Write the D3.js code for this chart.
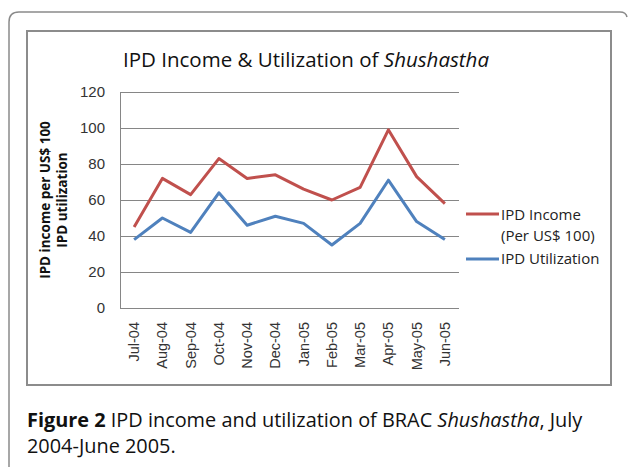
<!DOCTYPE html>
<html>
<head>
<meta charset="utf-8">
<script src="https://cdn.jsdelivr.net/npm/d3@7"></script>
<style>
  body { margin: 0; background: #fff; }
  svg { display: block; font-family: "Open Sans", sans-serif; }
  .tick text { fill: #333; }
</style>
</head>
<body>
<svg width="628" height="467"></svg>
<script>
// months on the x axis
var months = ['Jul-04', 'Aug-04', 'Sep-04', 'Oct-04', 'Nov-04', 'Dec-04',
  'Jan-05', 'Feb-05', 'Mar-05', 'Apr-05', 'May-05', 'Jun-05'];
// IPD income per US$ 100
var income = [45, 72, 63, 83, 72, 74, 66, 60, 67, 99, 73, 58];
// IPD utilization
var utilization = [38, 50, 42, 64, 46, 51, 47, 35, 47, 71, 48, 38];
var yTicks = [0, 20, 40, 60, 80, 100, 120];

var svg = d3.select('svg');

// journal figure frame (open at the bottom)
svg.append('path')
  .attr('d', 'M9,467 V22 Q9,12 19,12 H620 Q626,12 627,17')
  .attr('fill', 'none')
  .attr('stroke', '#8a8a8a')
  .attr('stroke-width', 1.5);

// chart box
svg.append('rect')
  .attr('x', 27)
  .attr('y', 31)
  .attr('width', 584)
  .attr('height', 354)
  .attr('fill', 'white')
  .attr('stroke', '#8c8c8c')
  .attr('stroke-width', 2);

var plot = { left: 120, right: 459, top: 92, bottom: 308 };

var x = d3.scaleBand()
  .domain(months)
  .range([plot.left, plot.right]);

var y = d3.scaleLinear()
  .domain([0, 120])
  .range([plot.bottom, plot.top]);

// y axis + gridlines
var yAxis = svg.append('g')
  .attr('transform', 'translate(' + plot.left + ',0)')
  .call(d3.axisLeft(y)
    .tickValues(yTicks)
    .tickSizeInner(-(plot.right - plot.left))
    .tickSizeOuter(0)
    .tickPadding(15));
yAxis.select('.domain').attr('stroke', '#868686');
yAxis.selectAll('.tick line').attr('stroke', '#868686');
yAxis.selectAll('.tick text').style('font-size', '15px');

// x axis labels, rotated
var xAxis = svg.append('g')
  .attr('transform', 'translate(0,' + plot.bottom + ')')
  .call(d3.axisBottom(x).tickSize(0));
xAxis.select('.domain').remove();
xAxis.selectAll('.tick text')
  .style('font-size', '14.5px')
  .attr('x', -14)
  .attr('y', 0)
  .attr('dy', '0.35em')
  .attr('transform', 'rotate(-90)')
  .style('text-anchor', 'end');

var line = d3.line()
  .x(function (d, i) { return x(months[i]) + x.bandwidth() / 2; })
  .y(function (d) { return y(d); });

svg.append('path')
  .datum(income)
  .attr('d', line)
  .attr('fill', 'none')
  .attr('stroke', '#C0504D')
  .attr('stroke-width', 3)
  .attr('stroke-linejoin', 'round');

svg.append('path')
  .datum(utilization)
  .attr('d', line)
  .attr('fill', 'none')
  .attr('stroke', '#4F81BD')
  .attr('stroke-width', 3)
  .attr('stroke-linejoin', 'round');

// title
var title = svg.append('text')
  .attr('x', 306)
  .attr('y', 67)
  .attr('text-anchor', 'middle')
  .style('font-size', '20.5px')
  .style('font-weight', 500)
  .style('fill', '#111');
title.append('tspan').text('IPD Income & Utilization of ');
title.append('tspan').style('font-style', 'italic').text('Shushastha');

// y axis title (two lines)
var yTitle = svg.append('text')
  .attr('transform', 'translate(50,200) rotate(-90)')
  .attr('text-anchor', 'middle')
  .style('font-size', '13.5px')
  .style('font-weight', 'bold')
  .style('fill', '#111');
yTitle.append('tspan').attr('x', 0).attr('y', 0).text('IPD income per US$ 100');
yTitle.append('tspan').attr('x', 0).attr('y', 17).text('IPD utilization');

// legend
var legend = svg.append('g')
  .style('font-size', '15px')
  .style('fill', '#222');
legend.append('line')
  .attr('x1', 466).attr('x2', 499).attr('y1', 214).attr('y2', 214)
  .attr('stroke', '#C0504D').attr('stroke-width', 3);
legend.append('line')
  .attr('x1', 466).attr('x2', 499).attr('y1', 259).attr('y2', 259)
  .attr('stroke', '#4F81BD').attr('stroke-width', 3);
legend.append('text').attr('x', 501).attr('y', 220).text('IPD Income');
legend.append('text').attr('x', 501).attr('y', 241).text('(Per US$ 100)');
legend.append('text').attr('x', 501).attr('y', 264).text('IPD Utilization');

// caption
var cap1 = svg.append('text')
  .attr('x', 27)
  .attr('y', 427)
  .style('font-size', '19.9px')
  .style('fill', '#111');
cap1.append('tspan').style('font-weight', 'bold').text('Figure 2');
cap1.append('tspan').text(' IPD income and utilization of BRAC ');
cap1.append('tspan').style('font-style', 'italic').text('Shushastha');
cap1.append('tspan').text(', July');

var cap2 = svg.append('text')
  .attr('x', 27)
  .attr('y', 453)
  .style('font-size', '19.9px')
  .style('fill', '#111');
cap2.append('tspan').text('2004-June 2005');
cap2.append('tspan').style('font-weight', 'normal').text('.');
</script>
</body>
</html>
